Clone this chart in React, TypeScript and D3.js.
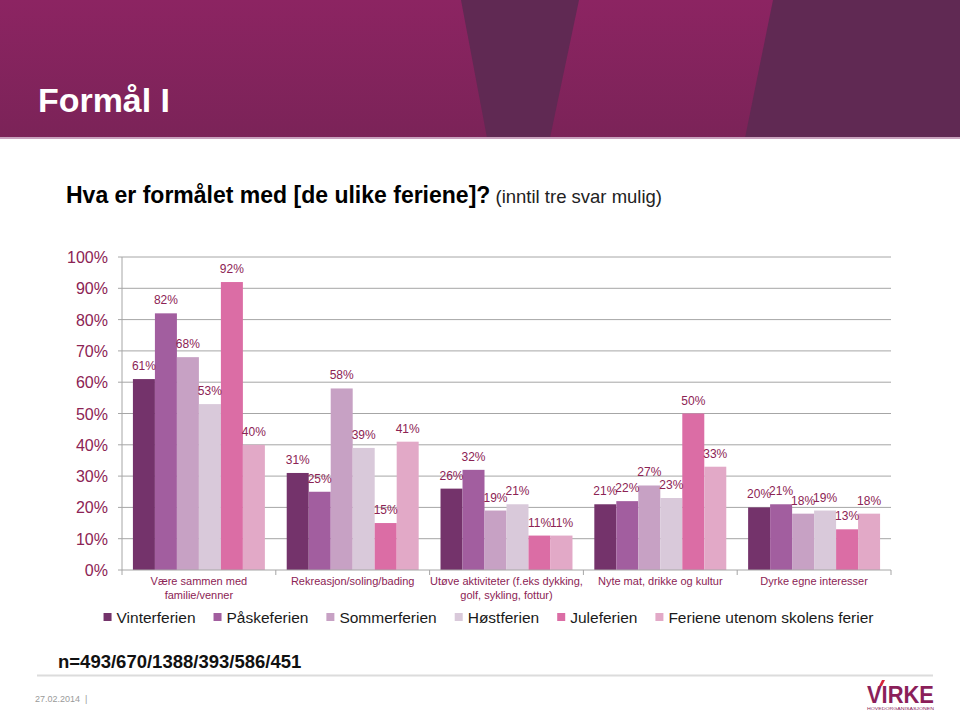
import React from "react";
import * as d3 from "d3";

const categories = [
  ["Være sammen med", "familie/venner"],
  ["Rekreasjon/soling/bading"],
  ["Utøve aktiviteter (f.eks dykking,", "golf, sykling, fottur)"],
  ["Nyte mat, drikke og kultur"],
  ["Dyrke egne interesser"],
];
const seriesNames = [
  "Vinterferien",
  "Påskeferien",
  "Sommerferien",
  "Høstferien",
  "Juleferien",
  "Feriene utenom skolens ferier",
];
const vinterferien = [61, 31, 26, 21, 20];
const paaskeferien = [82, 25, 32, 22, 21];
const sommerferien = [68, 58, 19, 27, 18];
const hostferien = [53, 39, 21, 23, 19];
const juleferien = [92, 15, 11, 50, 13];
const utenom = [40, 41, 11, 33, 18];
const seriesValues = [vinterferien, paaskeferien, sommerferien, hostferien, juleferien, utenom];
const yTicks = [0, 10, 20, 30, 40, 50, 60, 70, 80, 90, 100];

const colors = ["#74336B", "#A25E9F", "#C7A1C4", "#D9C9DA", "#DB6DA5", "#E2A9C7"];
const maroon = "#8C2354";
const FONT = "Arial, 'Liberation Sans', sans-serif";

function measure(text: string, font: string): number {
  if (typeof document === "undefined") return text.length * 8;
  const c = document.createElement("canvas");
  const ctx = c.getContext("2d")!;
  ctx.font = font;
  return ctx.measureText(text).width;
}

export default function App() {
  const W = 960, H = 714;
  const plotL = 122, plotR = 891, plotT = 257, plotB = 570;
  const catKeys = categories.map((c) => c.join(" "));
  const x0 = d3.scaleBand<string>().domain(catKeys).range([plotL, plotR]).paddingInner(0.142).paddingOuter(0.071);
  const x1 = d3.scaleBand<string>().domain(seriesNames).range([0, x0.bandwidth()]);
  const y = d3.scaleLinear().domain([0, 100]).range([plotB, plotT]);
  const step = x0.step();
  const boundaries = d3.range(categories.length + 1).map((i) => plotL + i * step);

  // legend layout
  const legSize = 15.5;
  const legFont = `${legSize}px Arial, 'Liberation Sans', sans-serif`;
  const sq = 8, sqGap = 5, itemGap = 18;
  const widths = seriesNames.map((s) => sq + sqGap + measure(s, legFont));
  const total = d3.sum(widths) + itemGap * (widths.length - 1);
  let lx = 488.5 - total / 2;
  const legendItems = seriesNames.map((s, i) => {
    const item = { name: s, x: lx, color: colors[i] };
    lx += widths[i] + itemGap;
    return item;
  });

  return (
    <div>
      <style>{`body{margin:0;}`}</style>
      <svg width={W} height={H} style={{ display: "block" }} fontFamily={FONT}>
        <defs>
          <linearGradient id="hdr" x1="0" y1="0" x2="0" y2="1">
            <stop offset="0" stopColor="#8C2462" />
            <stop offset="1" stopColor="#7B2358" />
          </linearGradient>
        </defs>
        <rect x={0} y={0} width={W} height={H} fill="#fff" />
        {/* header */}
        <rect x={0} y={0} width={W} height={138} fill="url(#hdr)" />
        <polygon points="461,0 579,0 550,138 487,138" fill="#602953" />
        <polygon points="773,0 960,0 960,138 745,138" fill="#602953" />
        <rect x={0} y={137} width={W} height={2} fill="#C9A2BE" />
        <text x={38} y={112} fill="#fff" fontSize={34} fontWeight="bold" textLength={132} lengthAdjust="spacingAndGlyphs">
          Formål I
        </text>
        {/* subtitle */}
        <text x={66} y={203} fill="#000" fontSize={23}>
          <tspan fontWeight="bold">Hva er formålet med [de ulike feriene]?</tspan>
          <tspan fontSize={18.5} fill="#222"> (inntil tre svar mulig)</tspan>
        </text>

        {/* gridlines */}
        {yTicks.map((t) => (
          <g key={t}>
            {t > 0 && <line x1={plotL} x2={plotR} y1={y(t)} y2={y(t)} stroke="#A6A6A6" strokeWidth={1} />}
            <line x1={plotL - 4} x2={plotL} y1={y(t)} y2={y(t)} stroke="#A6A6A6" />
            <text x={108} y={y(t) + 6} textAnchor="end" fontSize={16} fill={maroon}>
              {t}%
            </text>
          </g>
        ))}
        <line x1={plotL} x2={plotL} y1={plotT} y2={plotB} stroke="#A6A6A6" />

        {/* bars */}
        {catKeys.map((ck, ci) => (
          <g key={ck} transform={`translate(${x0(ck)},0)`}>
            {seriesNames.map((s, si) => {
              const v = seriesValues[si][ci];
              return (
                <rect key={s} x={x1(s)} y={y(v)} width={x1.bandwidth()} height={plotB - y(v)} fill={colors[si]} />
              );
            })}
            {seriesNames.map((s, si) => {
              const v = seriesValues[si][ci];
              return (
                <text key={s + "l"} x={(x1(s) || 0) + x1.bandwidth() / 2} y={y(v) - 9} textAnchor="middle" fontSize={12} fill={maroon}>
                  {v}%
                </text>
              );
            })}
          </g>
        ))}
        {/* x axis */}
        <line x1={plotL} x2={plotR} y1={plotB} y2={plotB} stroke="#A6A6A6" />
        {boundaries.map((b, i) => (
          <line key={i} x1={b} x2={b} y1={plotB} y2={plotB + 5} stroke="#A6A6A6" />
        ))}
        {categories.map((lines, ci) => (
          <text key={ci} textAnchor="middle" fontSize={11} fill={maroon}>
            {lines.map((ln, li) => (
              <tspan key={li} x={(x0(catKeys[ci]) || 0) + x0.bandwidth() / 2} y={585 + li * 13.5}>
                {ln}
              </tspan>
            ))}
          </text>
        ))}

        {/* legend */}
        {legendItems.map((it) => (
          <g key={it.name}>
            <rect x={it.x} y={613} width={sq} height={sq} fill={it.color} />
            <text x={it.x + sq + sqGap} y={623} fontSize={legSize} fill="#1a1a1a">
              {it.name}
            </text>
          </g>
        ))}

        {/* footer */}
        <text x={58} y={668} fontSize={18.5} fontWeight="bold" fill="#111">
          n=493/670/1388/393/586/451
        </text>
        <line x1={37} x2={933} y1={675.5} y2={675.5} stroke="#DCDCDC" strokeWidth={2} />
        <text x={35} y={702} fontSize={9} fill="#9A9A9A">
          27.02.2014 {"\u00a0"}|
        </text>
        {/* logo */}
        <text x={867} y={703} fontSize={24} fontWeight="bold" fill="#8B1F5A" textLength={67} lengthAdjust="spacingAndGlyphs">
          VIRKE
        </text>
        <polygon points="879,686 882,686 885,680 882,680" fill="#D6243C" />
        <text x={867} y={710} fontSize={4} fill="#8B1F5A" textLength={67} lengthAdjust="spacingAndGlyphs">
          HOVEDORGANISASJONEN
        </text>
      </svg>
    </div>
  );
}
